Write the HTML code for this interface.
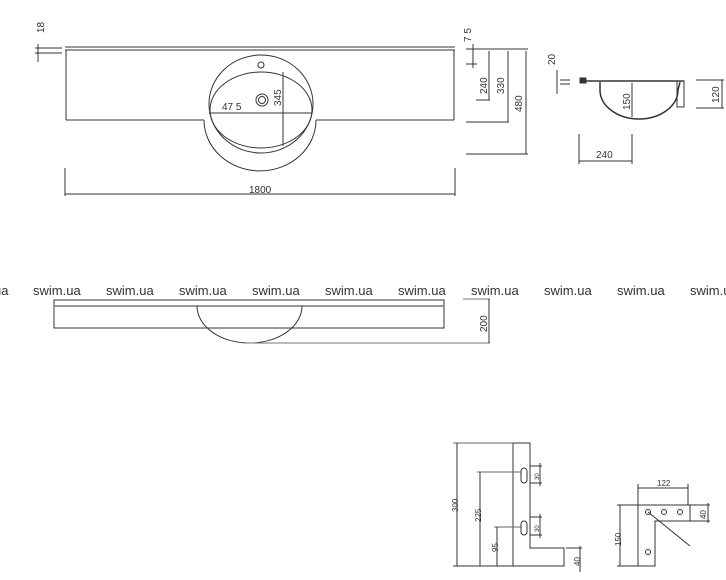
<!DOCTYPE html>
<html><head><style>
body{margin:0;background:#fff;width:726px;height:580px;overflow:hidden}
svg{display:block}
text{font-family:"Liberation Sans",sans-serif;fill:#333}
</style></head><body>
<svg width="726" height="580" viewBox="0 0 726 580" xmlns="http://www.w3.org/2000/svg">
<g fill="none" stroke="#333" stroke-width="1">
<!-- top view -->
<line x1="65" y1="47" x2="455" y2="47"/>
<line x1="65" y1="50" x2="455" y2="50"/>
<line x1="66" y1="50" x2="66" y2="120"/>
<line x1="454" y1="50" x2="454" y2="120"/>
<line x1="66" y1="120" x2="204" y2="120"/>
<line x1="316" y1="120" x2="454" y2="120"/>
<path d="M204 120 A55 50 0 0 0 316 120"/>
<ellipse cx="261" cy="104" rx="52" ry="49"/>
<ellipse cx="261" cy="110" rx="51" ry="38"/>
<circle cx="261" cy="65" r="3"/>
<circle cx="262" cy="100" r="6"/>
<circle cx="262" cy="100" r="3.5"/>
<line x1="209" y1="113" x2="312" y2="113"/>
<line x1="283" y1="72" x2="283" y2="146"/>
<line x1="65" y1="168" x2="65" y2="196"/>
<line x1="455" y1="168" x2="455" y2="196"/>
<line x1="65" y1="194" x2="455" y2="194"/>
<line x1="38" y1="44" x2="38" y2="62"/>
<line x1="35" y1="48" x2="62" y2="48"/>
<line x1="35" y1="53" x2="62" y2="53"/>
<!-- right dims -->
<line x1="466" y1="49" x2="528" y2="49"/>
<line x1="473" y1="44" x2="473" y2="68"/>
<line x1="466" y1="64" x2="477" y2="64"/>
<line x1="489" y1="51" x2="489" y2="100"/>
<line x1="476" y1="100" x2="490" y2="100"/>
<line x1="508" y1="51" x2="508" y2="122"/>
<line x1="466" y1="122" x2="509" y2="122"/>
<line x1="526" y1="51" x2="526" y2="154"/>
<line x1="466" y1="154" x2="528" y2="154"/>
<!-- section -->
<line x1="580" y1="81" x2="684" y2="81" stroke-width="1.5"/>
<rect x="580" y="78" width="6" height="5" fill="#333"/>
<path d="M600 82 L600 90 A39 29 0 0 0 678 90 L680 82" stroke-width="1.5"/>
<rect x="677" y="81" width="7" height="26"/>
<line x1="632" y1="83" x2="632" y2="117"/>
<line x1="557" y1="70" x2="557" y2="94"/>
<line x1="560" y1="80" x2="570" y2="80"/>
<line x1="560" y1="84" x2="570" y2="84"/>
<line x1="696" y1="80" x2="724" y2="80"/>
<line x1="696" y1="108" x2="724" y2="108"/>
<line x1="722" y1="80" x2="722" y2="108"/>
<line x1="579" y1="134" x2="579" y2="164"/>
<line x1="632" y1="134" x2="632" y2="164"/>
<line x1="579" y1="161" x2="632" y2="161"/>
<!-- front view -->
<rect x="54" y="300" width="390" height="28"/>
<line x1="54" y1="306" x2="444" y2="306" stroke="#777" stroke-width="1.5"/>
<path d="M197 306 A52.5 37 0 0 0 302 306"/>
<line x1="245" y1="343" x2="490" y2="343" stroke="#777"/>
<line x1="463" y1="299" x2="490" y2="299" stroke="#777"/>
<line x1="489" y1="299" x2="489" y2="343"/>
<!-- bracket side -->
<polygon points="513,443 530,443 530,548 564,548 564,566 513,566"/>
<line x1="453" y1="443" x2="513" y2="443" stroke="#666"/>
<line x1="457" y1="443" x2="457" y2="566"/>
<line x1="453" y1="566" x2="513" y2="566"/>
<line x1="477" y1="472" x2="521" y2="472" stroke="#666"/>
<line x1="480" y1="472" x2="480" y2="566"/>
<line x1="494" y1="527" x2="521" y2="527" stroke="#666"/>
<line x1="497" y1="527" x2="497" y2="566"/>
<rect x="521" y="468" width="6" height="15" rx="3"/>
<rect x="521" y="521" width="6" height="14" rx="3"/>
<line x1="530" y1="466" x2="542" y2="466"/>
<line x1="530" y1="483" x2="542" y2="483"/>
<line x1="540" y1="463" x2="540" y2="486"/>
<line x1="530" y1="517" x2="542" y2="517"/>
<line x1="530" y1="535" x2="542" y2="535"/>
<line x1="540" y1="514" x2="540" y2="538"/>
<line x1="566" y1="548" x2="582" y2="548"/>
<line x1="580" y1="546" x2="580" y2="572"/>
<!-- bracket plan -->
<polygon points="638,505 690,505 690,521 655,521 655,566 638,566"/>
<line x1="638" y1="484" x2="638" y2="505"/>
<line x1="688" y1="484" x2="688" y2="505"/>
<line x1="638" y1="488" x2="688" y2="488"/>
<line x1="617" y1="505" x2="638" y2="505"/>
<line x1="617" y1="566" x2="638" y2="566"/>
<line x1="620" y1="505" x2="620" y2="566"/>
<line x1="690" y1="505" x2="710" y2="505"/>
<line x1="690" y1="521" x2="710" y2="521"/>
<line x1="708" y1="503" x2="708" y2="523"/>
<line x1="648" y1="512" x2="690" y2="546"/>
<circle cx="648" cy="512" r="2.5"/><circle cx="664" cy="512" r="2.5"/>
<circle cx="680" cy="512" r="2.5"/><circle cx="648" cy="552" r="2.5"/>
</g>
<g font-size="10">
<text x="222" y="110">47 5</text>
<text x="249" y="193">1800</text>
<text transform="translate(281,106) rotate(-90)">345</text>
<text transform="translate(44,33) rotate(-90)">18</text>
<text transform="translate(471,42) rotate(-90)">7 5</text>
<text transform="translate(487,94) rotate(-90)">240</text>
<text transform="translate(504,94) rotate(-90)">330</text>
<text transform="translate(522,112) rotate(-90)">480</text>
<text transform="translate(555,65) rotate(-90)">20</text>
<text transform="translate(630,110) rotate(-90)">150</text>
<text transform="translate(719,103) rotate(-90)">120</text>
<text x="596" y="158">240</text>
<text transform="translate(487,332) rotate(-90)">200</text>
</g>
<g font-size="13" style="fill:#555">
<text x="-6" y="295">ua</text><text x="33" y="295">swim.ua</text><text x="106" y="295">swim.ua</text>
<text x="179" y="295">swim.ua</text><text x="252" y="295">swim.ua</text><text x="325" y="295">swim.ua</text>
<text x="398" y="295">swim.ua</text><text x="471" y="295">swim.ua</text><text x="544" y="295">swim.ua</text>
<text x="617" y="295">swim.ua</text><text x="690" y="295">swim.ua</text>
</g>
<g font-size="8">
<text transform="translate(458,512) rotate(-90)">300</text>
<text transform="translate(481,522) rotate(-90)">225</text>
<text transform="translate(498,552) rotate(-90)">95</text>
<text transform="translate(539,480) rotate(-90)" font-size="6">30</text>
<text transform="translate(539,532) rotate(-90)" font-size="6">30</text>
<text transform="translate(580,566) rotate(-90)">40</text>
<text x="657" y="486">122</text>
<text transform="translate(621,546) rotate(-90)">150</text>
<text transform="translate(706,519) rotate(-90)">40</text>
</g>
</svg>
</body></html>
